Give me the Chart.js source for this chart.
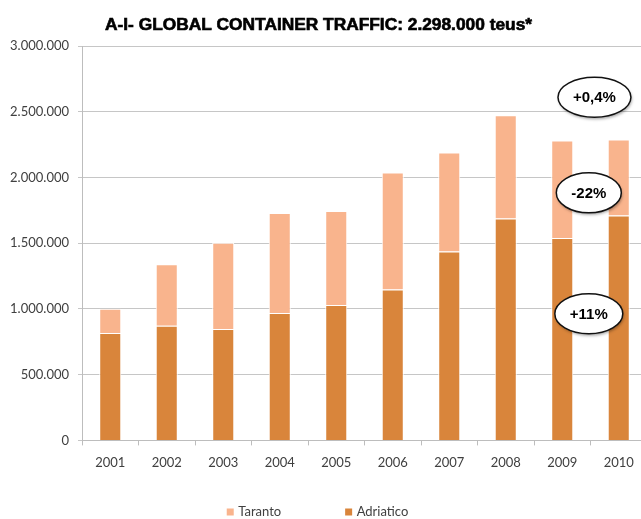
<!DOCTYPE html>
<html>
<head>
<meta charset="utf-8">
<script src="https://cdn.jsdelivr.net/npm/chart.js@4.4.1/dist/chart.umd.min.js"></script>
<style>
  html, body { margin: 0; padding: 0; background: #fff; overflow: hidden; }
  #wrap { width: 647px; height: 519px; }
</style>
</head>
<body>
<div id="wrap"><canvas id="myChart" width="647" height="519"></canvas></div>
<script>
// dati (teus)
const anni = ['2001', '2002', '2003', '2004', '2005', '2006', '2007', '2008', '2009', '2010'];
const adriatico = [816000, 873000, 847000, 969000, 1030000, 1147000, 1436000, 1687000, 1540000, 1710000];
const taranto = [186000, 466000, 657000, 761000, 715000, 890000, 753000, 786000, 741000, 578000];
const titolo = 'A-I- GLOBAL CONTAINER TRAFFIC: 2.298.000 teus*';

// note a fianco del 2009/2010 (posizione in categoria, valore)
const noteTesti = ['+0,4%', '-22%', '+11%'];
const noteX = [8.57, 8.47, 8.47];
const noteY = [2610000, 1883000, 964000];

const puntini = v => String(v).replace(/\B(?=(\d{3})+(?!\d))/g, '.');

const titoloPlugin = {
  id: 'titolo',
  afterDraw(chart) {
    const ctx = chart.ctx;
    ctx.save();
    ctx.font = 'bold 16px "Liberation Sans", Arial, sans-serif';
    const w = ctx.measureText(titolo).width;
    const sx = 427 / w;
    ctx.translate(318.5, 26);
    ctx.scale(sx, 1);
    ctx.fillStyle = '#000';
    ctx.strokeStyle = '#000';
    ctx.lineWidth = 0.6;
    ctx.textAlign = 'center';
    ctx.textBaseline = 'middle';
    ctx.fillText(titolo, 0, 0);
    ctx.strokeText(titolo, 0, 0);
    ctx.restore();
  }
};

const notePlugin = {
  id: 'note',
  afterDatasetsDraw(chart) {
    const ctx = chart.ctx;
    const xs = chart.scales.x, ys = chart.scales.y;
    ctx.save();
    ctx.font = 'bold 15px "Liberation Sans", Arial, sans-serif';
    noteTesti.forEach((t, i) => {
      const cx = xs.getPixelForValue(noteX[i]);
      const cy = ys.getPixelForValue(noteY[i]);
      const rx = ctx.measureText(t).width / 2 + 15;
      const ry = 20;
      ctx.save();
      ctx.shadowColor = 'rgba(0,0,0,0.35)';
      ctx.shadowBlur = 3;
      ctx.shadowOffsetX = 1;
      ctx.shadowOffsetY = 2;
      ctx.beginPath();
      ctx.ellipse(cx, cy, rx, ry, 0, 0, Math.PI * 2);
      ctx.fillStyle = '#fff';
      ctx.fill();
      ctx.restore();
      ctx.beginPath();
      ctx.ellipse(cx, cy, rx, ry, 0, 0, Math.PI * 2);
      ctx.lineWidth = 1.5;
      ctx.strokeStyle = '#111';
      ctx.stroke();
      ctx.fillStyle = '#000';
      ctx.textAlign = 'center';
      ctx.textBaseline = 'middle';
      ctx.fillText(t, cx, cy + 1);
    });
    ctx.restore();
  }
};

const legendaPlugin = {
  id: 'legenda',
  afterDraw(chart) {
    const ctx = chart.ctx;
    const ds = chart.data.datasets.slice().reverse();
    ctx.save();
    ctx.font = '13px Lato, sans-serif';
    ctx.textBaseline = 'middle';
    const box = 7, gap = 4.5, spazio = 64;
    const larghezze = ds.map(d => box + gap + ctx.measureText(d.label).width);
    const tot = larghezze.reduce((a, b) => a + b, 0) + spazio * (ds.length - 1);
    let x = 317.5 - tot / 2;
    const y = 512;
    ds.forEach((d, i) => {
      ctx.fillStyle = d.backgroundColor;
      ctx.fillRect(x, y - box / 2, box, box);
      ctx.fillStyle = '#404040';
      ctx.fillText(d.label, x + box + gap, y);
      x += larghezze[i] + spazio;
    });
    ctx.restore();
  }
};

const ctx = document.getElementById('myChart');

new Chart(ctx, {
  type: 'bar',
  data: {
    labels: anni,
    datasets: [{
      label: 'Adriatico',
      data: adriatico,
      backgroundColor: '#D9853B',
      borderColor: '#fff',
      borderWidth: 1,
      barPercentage: 0.39,
      categoryPercentage: 1
    }, {
      label: 'Taranto',
      data: taranto,
      backgroundColor: '#F9B48D',
      borderColor: '#fff',
      borderWidth: 1,
      barPercentage: 0.39,
      categoryPercentage: 1
    }]
  },
  options: {
    responsive: false,
    animation: false,
    layout: { padding: { top: 46, bottom: 38, left: 0, right: 0 } },
    plugins: {
      legend: { display: false },
      title: { display: false },
      tooltip: { enabled: false }
    },
    scales: {
      x: {
        stacked: true,
        grid: { drawOnChartArea: false, drawTicks: true, tickLength: 5, color: '#BDBDBD' },
        border: { color: '#BDBDBD' },
        ticks: { color: '#404040', font: { family: 'Lato', size: 13 }, padding: 10 }
      },
      y: {
        stacked: true,
        min: 0,
        max: 3000000,
        afterFit(scale) { scale.width = 82; },
        grid: { color: '#C6C6C6', tickLength: 4 },
        border: { color: '#BDBDBD' },
        ticks: {
          stepSize: 500000,
          color: '#404040',
          font: { family: 'Lato', size: 13 },
          padding: 9,
          callback: v => puntini(v)
        }
      }
    }
  },
  plugins: [titoloPlugin, notePlugin, legendaPlugin]
});
</script>
</body>
</html>
